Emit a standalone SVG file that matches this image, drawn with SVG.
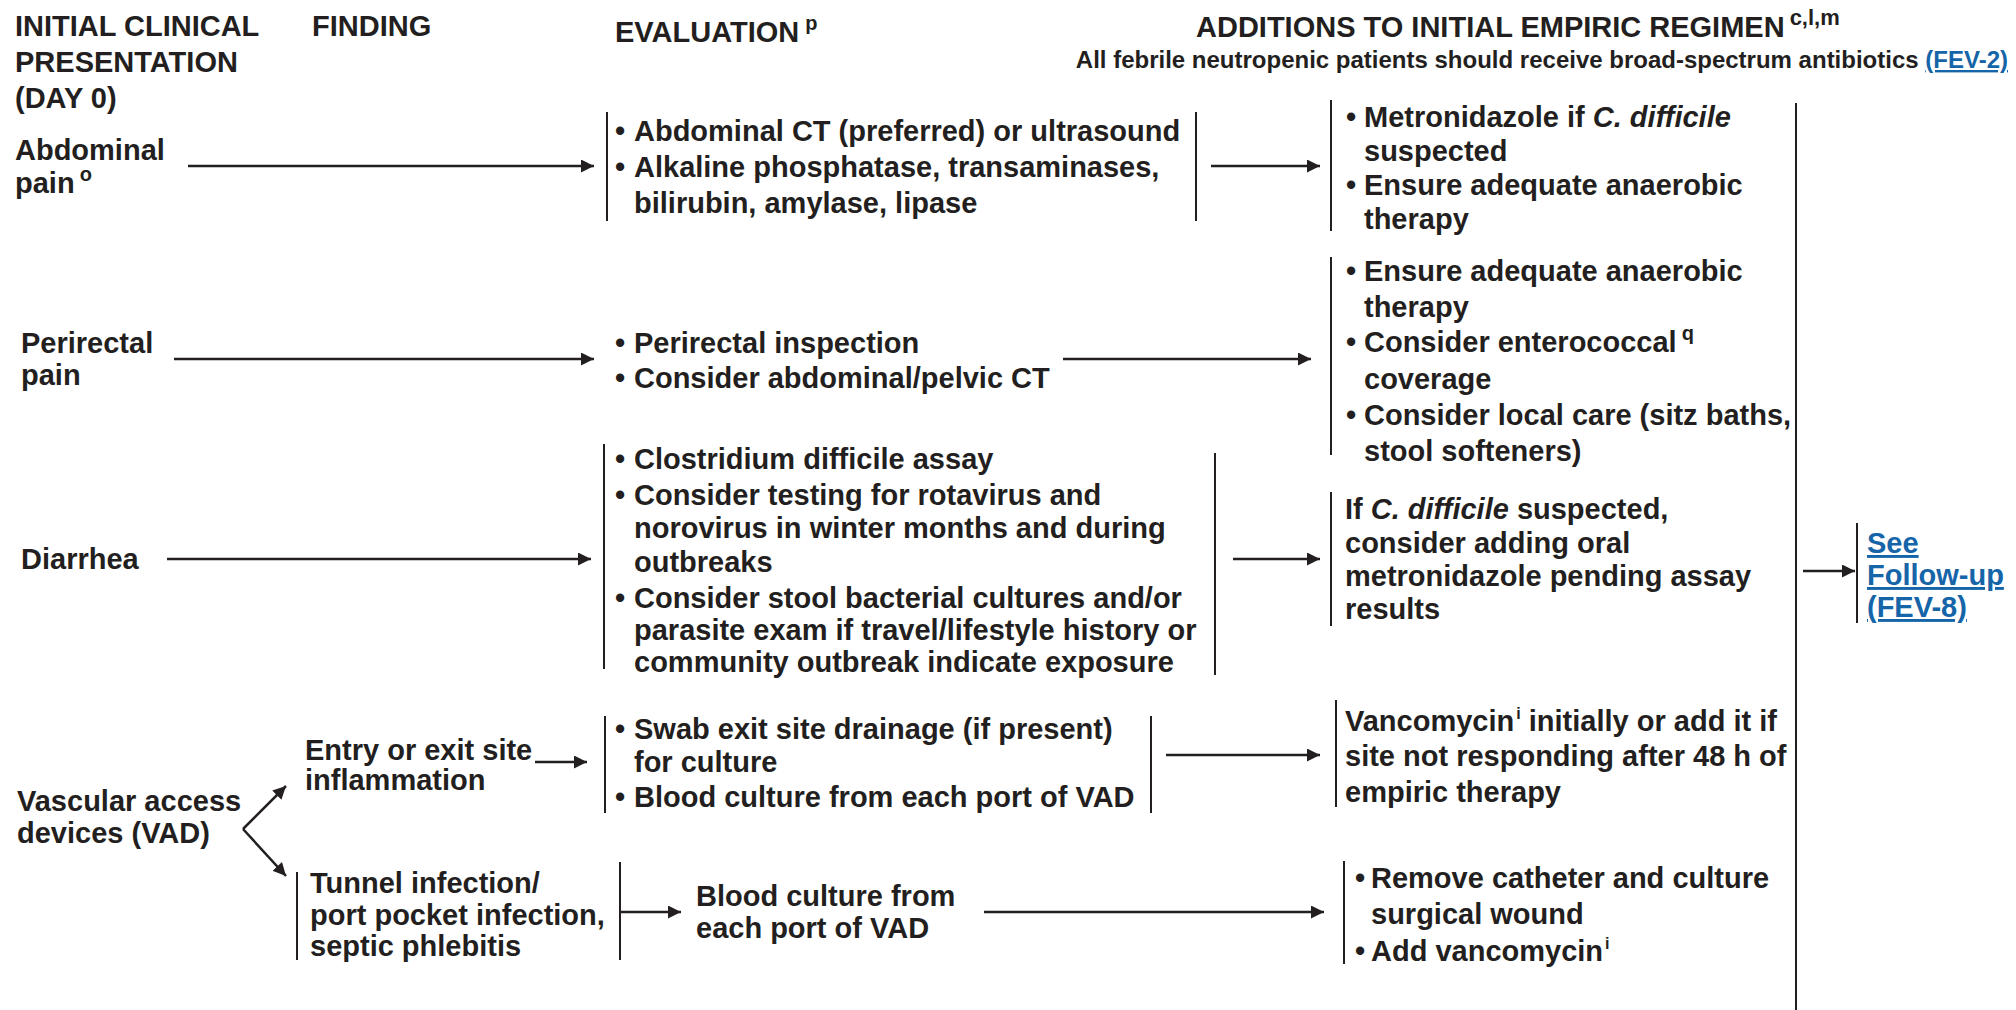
<svg xmlns="http://www.w3.org/2000/svg" width="2016" height="1010" viewBox="0 0 2016 1010">
<defs>
<style>
text{font-family:"Liberation Sans",Arial,sans-serif;font-weight:bold;font-size:29px;fill:#231f20}
.sub{font-size:24px}
.sup{font-size:20px}
.supw{font-size:22px}
.supi{font-size:16px}
.link{fill:#1565a8;text-decoration:underline}
.ln{stroke:#231f20;stroke-width:2.5;fill:none}
.bar{stroke:#231f20;stroke-width:2;fill:none}
</style>
<marker id="ah" markerUnits="userSpaceOnUse" markerWidth="14" markerHeight="14" refX="13" refY="6.5" orient="auto">
<path d="M0,0 L13,6.5 L0,13 z" fill="#231f20"/>
</marker>
</defs>
<rect width="2016" height="1010" fill="#fff"/>

<g id="headers">
<text x="15" y="36">INITIAL CLINICAL</text>
<text x="15" y="72">PRESENTATION</text>
<text x="15" y="108">(DAY 0)</text>
<text x="312" y="36">FINDING</text>
<text x="615" y="42">EVALUATION<tspan class="sup" dx="6" dy="-12">p</tspan></text>
<text x="1196" y="37">ADDITIONS TO INITIAL EMPIRIC REGIMEN<tspan class="supw" dx="5" dy="-12">c,l,m</tspan></text>
<text class="sub" x="2008" y="68" text-anchor="end">All febrile neutropenic patients should receive broad-spectrum antibiotics <tspan class="link">(FEV-2)</tspan></text>
</g>

<g id="connectors">
<line class="ln" x1="188" y1="166" x2="594" y2="166" marker-end="url(#ah)"/>
<line class="ln" x1="1211" y1="166" x2="1320" y2="166" marker-end="url(#ah)"/>
<line class="ln" x1="174" y1="359" x2="594" y2="359" marker-end="url(#ah)"/>
<line class="ln" x1="1063" y1="359" x2="1311" y2="359" marker-end="url(#ah)"/>
<line class="ln" x1="167" y1="559" x2="591" y2="559" marker-end="url(#ah)"/>
<line class="ln" x1="1233" y1="559" x2="1320" y2="559" marker-end="url(#ah)"/>
<line class="ln" x1="1803" y1="571" x2="1855" y2="571" marker-end="url(#ah)"/>
<line class="ln" x1="243" y1="829" x2="286" y2="786" marker-end="url(#ah)"/>
<line class="ln" x1="243" y1="829" x2="286" y2="876" marker-end="url(#ah)"/>
<line class="ln" x1="535" y1="762" x2="587" y2="762" marker-end="url(#ah)"/>
<line class="ln" x1="1166" y1="755" x2="1320" y2="755" marker-end="url(#ah)"/>
<line class="ln" x1="621" y1="912" x2="681" y2="912" marker-end="url(#ah)"/>
<line class="ln" x1="984" y1="912" x2="1324" y2="912" marker-end="url(#ah)"/>
<line class="bar" x1="1796" y1="103" x2="1796" y2="1010"/>
</g>

<g id="abdominal-pain">
<text x="15" y="160">Abdominal</text>
<text x="15" y="193">pain<tspan class="sup" dx="5" dy="-12">o</tspan></text>
</g>
<g id="eval-abdominal">
<line class="bar" x1="607" y1="112" x2="607" y2="221"/>
<line class="bar" x1="1196" y1="112" x2="1196" y2="221"/>
<text x="615" y="141">•</text><text x="634" y="141">Abdominal CT (preferred) or ultrasound</text>
<text x="615" y="177">•</text><text x="634" y="177">Alkaline phosphatase, transaminases,</text>
<text x="634" y="213">bilirubin, amylase, lipase</text>
</g>
<g id="add-abdominal">
<line class="bar" x1="1331" y1="100" x2="1331" y2="231"/>
<text x="1346" y="127">•</text><text x="1364" y="127">Metronidazole if <tspan font-style="italic">C. difficile</tspan></text>
<text x="1364" y="161">suspected</text>
<text x="1346" y="195">•</text><text x="1364" y="195">Ensure adequate anaerobic</text>
<text x="1364" y="229">therapy</text>
</g>

<g id="perirectal-pain">
<text x="21" y="353">Perirectal</text>
<text x="21" y="385">pain</text>
</g>
<g id="eval-perirectal">
<text x="615" y="353">•</text><text x="634" y="353">Perirectal inspection</text>
<text x="615" y="388">•</text><text x="634" y="388">Consider abdominal/pelvic CT</text>
</g>
<g id="add-perirectal">
<line class="bar" x1="1331" y1="257" x2="1331" y2="455"/>
<text x="1346" y="281">•</text><text x="1364" y="281">Ensure adequate anaerobic</text>
<text x="1364" y="317">therapy</text>
<text x="1346" y="352">•</text><text x="1364" y="352">Consider enterococcal<tspan class="sup" dx="5" dy="-12">q</tspan></text>
<text x="1364" y="389">coverage</text>
<text x="1346" y="425">•</text><text x="1364" y="425">Consider local care (sitz baths,</text>
<text x="1364" y="461">stool softeners)</text>
</g>

<g id="diarrhea">
<text x="21" y="569">Diarrhea</text>
</g>
<g id="eval-diarrhea">
<line class="bar" x1="604" y1="444" x2="604" y2="669"/>
<line class="bar" x1="1215" y1="453" x2="1215" y2="675"/>
<text x="615" y="469">•</text><text x="634" y="469">Clostridium difficile assay</text>
<text x="615" y="505">•</text><text x="634" y="505">Consider testing for rotavirus and</text>
<text x="634" y="538">norovirus in winter months and during</text>
<text x="634" y="572">outbreaks</text>
<text x="615" y="608">•</text><text x="634" y="608">Consider stool bacterial cultures and/or</text>
<text x="634" y="640">parasite exam if travel/lifestyle history or</text>
<text x="634" y="672">community outbreak indicate exposure</text>
</g>
<g id="add-diarrhea">
<line class="bar" x1="1331" y1="492" x2="1331" y2="626"/>
<text x="1345" y="519">If <tspan font-style="italic">C. difficile</tspan> suspected,</text>
<text x="1345" y="553">consider adding oral</text>
<text x="1345" y="586">metronidazole pending assay</text>
<text x="1345" y="619">results</text>
</g>

<g id="follow-up">
<line class="bar" x1="1857" y1="523" x2="1857" y2="623"/>
<text class="link" x="1867" y="553">See</text>
<text class="link" x="1867" y="585">Follow-up</text>
<text x="1867" y="617"><tspan class="link">(FEV-8)</tspan></text>
</g>

<g id="vad">
<text x="17" y="811">Vascular access</text>
<text x="17" y="843">devices (VAD)</text>
</g>
<g id="entry-exit">
<text x="305" y="760">Entry or exit site</text>
<text x="305" y="790">inflammation</text>
</g>
<g id="eval-entry">
<line class="bar" x1="605" y1="716" x2="605" y2="813"/>
<line class="bar" x1="1151" y1="716" x2="1151" y2="813"/>
<text x="615" y="739">•</text><text x="634" y="739">Swab exit site drainage (if present)</text>
<text x="634" y="772">for culture</text>
<text x="615" y="807">•</text><text x="634" y="807">Blood culture from each port of VAD</text>
</g>
<g id="add-entry">
<line class="bar" x1="1336" y1="700" x2="1336" y2="807"/>
<text x="1345" y="731">Vancomycin<tspan class="supi" dx="2" dy="-12">i</tspan><tspan dy="12"> initially or add it if</tspan></text>
<text x="1345" y="766">site not responding after 48 h of</text>
<text x="1345" y="802">empiric therapy</text>
</g>
<g id="tunnel">
<line class="bar" x1="297" y1="872" x2="297" y2="960"/>
<line class="bar" x1="620" y1="862" x2="620" y2="960"/>
<text x="310" y="893">Tunnel infection/</text>
<text x="310" y="925">port pocket infection,</text>
<text x="310" y="956">septic phlebitis</text>
</g>
<g id="eval-tunnel">
<text x="696" y="906">Blood culture from</text>
<text x="696" y="938">each port of VAD</text>
</g>
<g id="add-tunnel">
<line class="bar" x1="1344" y1="861" x2="1344" y2="964"/>
<text x="1355" y="888">•</text><text x="1371" y="888">Remove catheter and culture</text>
<text x="1371" y="924">surgical wound</text>
<text x="1355" y="961">•</text><text x="1371" y="961">Add vancomycin<tspan class="supi" dx="2" dy="-12">i</tspan></text>
</g>
</svg>
